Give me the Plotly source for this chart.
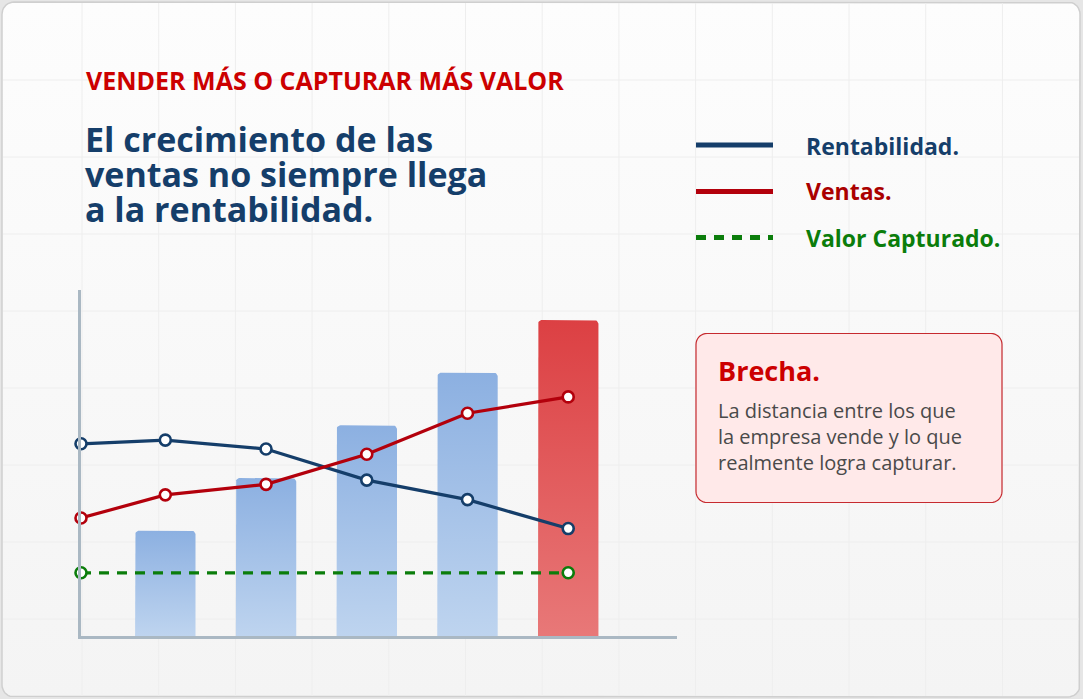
import numpy as np
import plotly.graph_objects as go

# datos
posiciones = [0.163, 1, 2, 3, 4, 5]
rentabilidad = [36.5, 37.2, 35.5, 29.6, 25.9, 20.4]
ventas = [22.4, 26.8, 28.8, 34.5, 42.3, 45.4]
valor_x = [0.163, 5]
valor_capturado = [12.0, 12.0]
barras_x = [1, 2, 3, 4, 5]
barras = [20, 30, 40, 50, 60]

kicker = "VENDER MÁS O CAPTURAR MÁS VALOR"
titulo = ["El crecimiento de las", "ventas no siempre llega", "a la rentabilidad."]
leyenda = ["Rentabilidad.", "Ventas.", "Valor Capturado."]
brecha_titulo = "Brecha."
brecha_texto = ["La distancia entre los que", "la empresa vende y lo que", "realmente logra capturar."]

W, H = 1083, 699
NAVY = "#153e6a"
RED = "#b3000c"
GREEN = "#0b7d0b"
FONT = "Open Sans"


def rounded_rect(x0, y0, x1, y1, r, n=10):
    # pixel coords, y grows downward
    xs, ys = [], []
    for cx, cy, a0, a1 in [(x0 + r, y0 + r, np.pi, np.pi / 2),
                           (x1 - r, y0 + r, np.pi / 2, 0),
                           (x1 - r, y1 - r, 0, -np.pi / 2),
                           (x0 + r, y1 - r, -np.pi / 2, -np.pi)]:
        a = np.linspace(a0, a1, n)
        xs += list(cx + r * np.cos(a))
        ys += list(cy - r * np.sin(a))
    return xs + [xs[0]], ys + [ys[0]]


def bar_outline(c, h, w, rx, ry, n=8):
    left, right = c - w / 2, c + w / 2
    a1 = np.linspace(np.pi, np.pi / 2, n)
    a2 = np.linspace(np.pi / 2, 0, n)
    xs = [left] + list(left + rx + rx * np.cos(a1)) + list(right - rx + rx * np.cos(a2)) + [right, left]
    ys = [0] + list(h - ry + ry * np.sin(a1)) + list(h - ry + ry * np.sin(a2)) + [0, 0]
    return xs, ys


fig = go.Figure()

# tarjeta de fondo
cx, cy = rounded_rect(2, 2, 1080, 697, 12)
fig.add_trace(go.Scatter(x=cx, y=cy, mode="lines", fill="toself",
                         line=dict(color="#cfcfcf", width=1.5),
                         fillgradient=dict(type="vertical", start=2, stop=697,
                                           colorscale=[[0, "#fdfdfd"], [1, "#f4f4f4"]]),
                         hoverinfo="skip", showlegend=False, xaxis="x", yaxis="y"))

# cuadricula
gx, gy = [], []
for k in range(13):
    gx += [82 + 76.7 * k, 82 + 76.7 * k, None]
    gy += [3, 696, None]
for k in range(8):
    gx += [3, 1079, None]
    gy += [80 + 77 * k, 80 + 77 * k, None]
fig.add_trace(go.Scatter(x=gx, y=gy, mode="lines", line=dict(color="#eeeeee", width=1),
                         hoverinfo="skip", showlegend=False, xaxis="x", yaxis="y"))

# barras con degradado
x_range = [0.163, 6.08]
y_range = [0, 65.7]
plot_l, plot_r, plot_t, plot_b = 81, 677, 290, 636
px_x = (plot_r - plot_l) / (x_range[1] - x_range[0])
px_y = (plot_b - plot_t) / (y_range[1] - y_range[0])
for i, (bx, bv) in enumerate(zip(barras_x, barras)):
    last = i == len(barras) - 1
    scale = [[0, "#e87878"], [1, "#dc4043"]] if last else [[0, "#bed4ef"], [1, "#8cb0e1"]]
    xs, ys = bar_outline(bx, bv, 0.6, 4 / px_x, 4 / px_y)
    fig.add_trace(go.Scatter(x=xs, y=ys, mode="lines", fill="toself", line=dict(width=0),
                             fillgradient=dict(type="vertical", start=0, stop=bv, colorscale=scale),
                             hoverinfo="skip", showlegend=False, xaxis="x2", yaxis="y2"))

mk = dict(symbol="circle", size=11, color="white")
fig.add_trace(go.Scatter(x=valor_x, y=valor_capturado, mode="lines+markers",
                         line=dict(color=GREEN, width=3.2, dash="10px,8px"),
                         marker=dict(mk, line=dict(color=GREEN, width=2.6)),
                         cliponaxis=False, showlegend=False, xaxis="x2", yaxis="y2"))
fig.add_trace(go.Scatter(x=posiciones, y=rentabilidad, mode="lines+markers",
                         line=dict(color=NAVY, width=3.2),
                         marker=dict(mk, line=dict(color=NAVY, width=2.6)),
                         cliponaxis=False, showlegend=False, xaxis="x2", yaxis="y2"))
fig.add_trace(go.Scatter(x=posiciones, y=ventas, mode="lines+markers",
                         line=dict(color=RED, width=3.2),
                         marker=dict(mk, line=dict(color=RED, width=2.6)),
                         cliponaxis=False, showlegend=False, xaxis="x2", yaxis="y2"))

# leyenda manual
shapes = []
leg_y = [145, 191.5, 237.5]
leg_col = [NAVY, "#aa0000", GREEN]
for yy, col, dash in zip(leg_y, [NAVY, RED, GREEN], ["solid", "solid", "10px,8px"]):
    shapes.append(dict(type="line", xref="x", yref="y", x0=696, x1=773, y0=yy, y1=yy,
                       line=dict(color=col, width=5, dash=dash), layer="above"))

# cuadro Brecha
bx_, by_ = rounded_rect(696, 333.5, 1002, 502.5, 11)
path = "M " + " L ".join(f"{a:.2f},{b:.2f}" for a, b in zip(bx_, by_)) + " Z"
shapes.append(dict(type="path", xref="x", yref="y", path=path, fillcolor="#ffe9e9",
                   line=dict(color="#c62a2f", width=1.2), layer="above"))

ann = []
ann.append(dict(text=kicker, x=84, y=80, font=dict(family=FONT, size=25, color="#cc0000", weight="bold")))
for t, yy in zip(titulo, [138.5, 173.5, 208.5]):
    ann.append(dict(text=t, x=83, y=yy, font=dict(family=FONT, size=34, color=NAVY, weight="bold")))
for t, yy, col in zip(leyenda, [146, 191, 238], leg_col):
    ann.append(dict(text=t, x=804, y=yy, font=dict(family=FONT, size=23, color=col, weight="bold")))
ann.append(dict(text=brecha_titulo, x=716, y=370, font=dict(family=FONT, size=27, color="#cc0000", weight="bold")))
for t, yy in zip(brecha_texto, [410, 436.5, 462.5]):
    ann.append(dict(text=t, x=716, y=yy, font=dict(family=FONT, size=20, color="#4a4a4a")))
for a in ann:
    a.update(xref="x", yref="y", xanchor="left", yanchor="middle", showarrow=False)

axis_line = "#aab8c3"
fig.update_layout(
    width=W, height=H, margin=dict(l=0, r=0, t=0, b=0),
    paper_bgcolor="#e6e6e6", plot_bgcolor="rgba(0,0,0,0)",
    showlegend=False, shapes=shapes, annotations=ann,
    xaxis=dict(domain=[0, 1], range=[0, W], visible=False, fixedrange=True),
    yaxis=dict(domain=[0, 1], range=[H, 0], visible=False, fixedrange=True),
    xaxis2=dict(domain=[plot_l / W, plot_r / W], range=x_range, anchor="y2",
                showline=True, linecolor=axis_line, linewidth=3, showgrid=False,
                zeroline=False, showticklabels=False, ticks=""),
    yaxis2=dict(domain=[(H - plot_b) / H, (H - plot_t) / H], range=y_range, anchor="x2",
                showline=True, linecolor=axis_line, linewidth=3, showgrid=False,
                zeroline=False, showticklabels=False, ticks=""),
)

fig.write_html("out.html", config={"displayModeBar": False},
               post_script="document.body.style.margin='0px';document.body.style.overflow='hidden';")
